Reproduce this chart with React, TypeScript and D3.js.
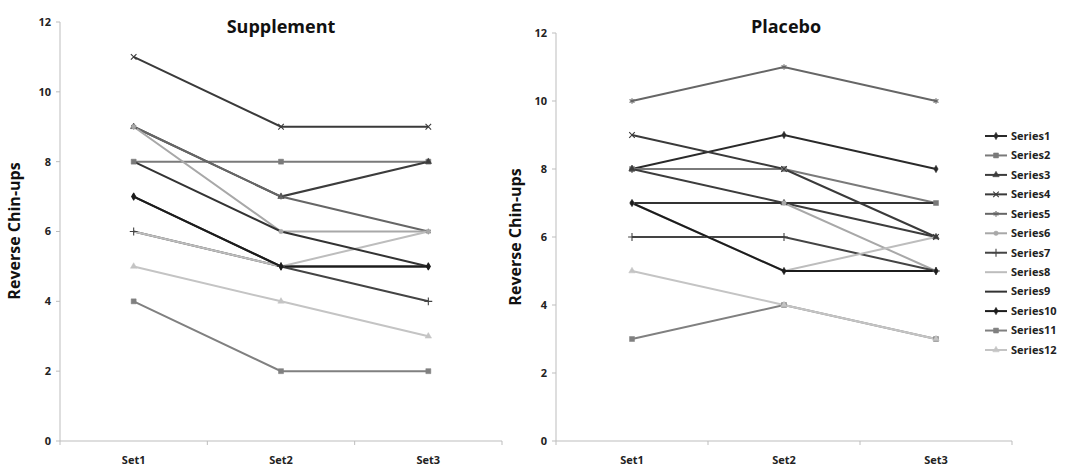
import React from "react";
import * as d3 from "d3";

const categories = ["Set1", "Set2", "Set3"];
const seriesNames = ["Series1","Series2","Series3","Series4","Series5","Series6","Series7","Series8","Series9","Series10","Series11","Series12"];
const yTicks = [0, 2, 4, 6, 8, 10, 12];

// values per series: [Set1, Set2, Set3]
const supplement = [
  [7, 5, 5], [8, 8, 8], [9, 7, 8], [11, 9, 9], [9, 7, 6], [9, 6, 6],
  [6, 5, 4], [6, 5, 6], [8, 6, 5], [7, 5, 5], [4, 2, 2], [5, 4, 3],
];
const placebo = [
  [8, 9, 8], [8, 8, 7], [8, 7, 6], [9, 8, 6], [10, 11, 10], [7, 7, 5],
  [6, 6, 5], [7, 5, 6], [7, 7, 7], [7, 5, 5], [3, 4, 3], [5, 4, 3],
];

type Sty = { color: string; sym: any; fill: boolean; size: number };
const styles: Sty[] = [
  { color: "#2a2a2a", sym: d3.symbolDiamond, fill: true, size: 16 },
  { color: "#7a7a7a", sym: d3.symbolSquare, fill: true, size: 25 },
  { color: "#3c3c3c", sym: d3.symbolTriangle, fill: true, size: 18 },
  { color: "#3a3a3a", sym: d3.symbolTimes, fill: false, size: 22 },
  { color: "#666666", sym: d3.symbolAsterisk, fill: false, size: 22 },
  { color: "#a8a8a8", sym: d3.symbolCircle, fill: true, size: 16 },
  { color: "#444444", sym: d3.symbolPlus, fill: false, size: 22 },
  { color: "#bdbdbd", sym: null, fill: false, size: 0 },
  { color: "#333333", sym: null, fill: false, size: 0 },
  { color: "#1c1c1c", sym: d3.symbolDiamond, fill: true, size: 16 },
  { color: "#808080", sym: d3.symbolSquare, fill: true, size: 25 },
  { color: "#c4c4c4", sym: d3.symbolTriangle, fill: true, size: 18 },
];

const FONT = "'Open Sans', Lato, sans-serif";

function Marker({ s, x, y }: { s: Sty; x: number; y: number }) {
  if (!s.sym) return null;
  const p = d3.symbol().type(s.sym).size(s.size)() as string;
  return (
    <path
      d={p}
      transform={`translate(${x},${y})`}
      fill={s.fill ? s.color : "none"}
      stroke={s.color}
      strokeWidth={s.fill ? 0.5 : 1.1}
    />
  );
}

function Panel({ data, title, x0, x1, yTop, yBottom, titleX, labelX, labelY }: any) {
  const x = d3.scaleBand<string>().domain(categories).range([x0, x1]).padding(0);
  const y = d3.scaleLinear().domain([0, 12]).range([yBottom, yTop]);
  const cx = (c: string) => (x(c) as number) + x.bandwidth() / 2;
  const line = d3
    .line<number>()
    .x((_, i) => cx(categories[i]))
    .y((v) => y(v));
  const axisColor = "#bdbdbd";
  const bounds = [x0, ...categories.map((c) => (x(c) as number) + x.bandwidth())];
  return (
    <g>
      <text x={titleX} y={33} textAnchor="middle" fontFamily={FONT} fontWeight="bold" fontSize={18} fill="#111">
        {title}
      </text>
      <text
        transform={`translate(${labelX},${labelY}) rotate(-90)`}
        textAnchor="middle"
        fontFamily={FONT}
        fontWeight="bold"
        fontSize={16}
        fill="#111"
      >
        Reverse Chin-ups
      </text>
      <line x1={x0} x2={x0} y1={yTop} y2={yBottom} stroke={axisColor} strokeWidth={1} />
      <line x1={x0} x2={x1} y1={yBottom} y2={yBottom} stroke={axisColor} strokeWidth={1} />
      {yTicks.map((t) => (
        <g key={t}>
          <line x1={x0 - 4} x2={x0} y1={y(t)} y2={y(t)} stroke={axisColor} />
          <text x={x0 - 9} y={y(t)} dy="0.35em" textAnchor="end" fontFamily={FONT} fontWeight="bold" fontSize={11} fill="#222">
            {t}
          </text>
        </g>
      ))}
      {bounds.map((b, i) => (
        <line key={i} x1={b} x2={b} y1={yBottom} y2={yBottom + 4} stroke={axisColor} />
      ))}
      {categories.map((c) => (
        <text key={c} x={cx(c)} y={yBottom + 23} textAnchor="middle" fontFamily={FONT} fontWeight="bold" fontSize={11} fill="#222">
          {c}
        </text>
      ))}
      {data.map((vals: number[], i: number) => (
        <path key={i} d={line(vals) as string} fill="none" stroke={styles[i].color} strokeWidth={2} />
      ))}
      {data.map((vals: number[], i: number) =>
        vals.map((v, j) => <Marker key={`${i}-${j}`} s={styles[i]} x={cx(categories[j])} y={y(v)} />)
      )}
    </g>
  );
}

export default function App() {
  const legendY = d3.scalePoint<string>().domain(seriesNames).range([136, 350]);
  return (
    <svg width={1070} height={467} style={{ position: "absolute", left: 0, top: 0, background: "#fff" }}>
      <rect width={1070} height={467} fill="#fff" />
      <Panel data={supplement} title="Supplement" x0={60} x1={502} yTop={22} yBottom={441} titleX={281} labelX={20} labelY={231} />
      <Panel data={placebo} title="Placebo" x0={556} x1={1012} yTop={33} yBottom={441} titleX={786} labelX={521} labelY={237} />
      {seriesNames.map((n, i) => {
        const yy = legendY(n) as number;
        return (
          <g key={n}>
            <line x1={985} x2={1007} y1={yy} y2={yy} stroke={styles[i].color} strokeWidth={2} />
            <Marker s={styles[i]} x={996} y={yy} />
            <text x={1011} y={yy} dy="0.35em" fontFamily={FONT} fontWeight="bold" fontSize={11} fill="#222">
              {n}
            </text>
          </g>
        );
      })}
    </svg>
  );
}
